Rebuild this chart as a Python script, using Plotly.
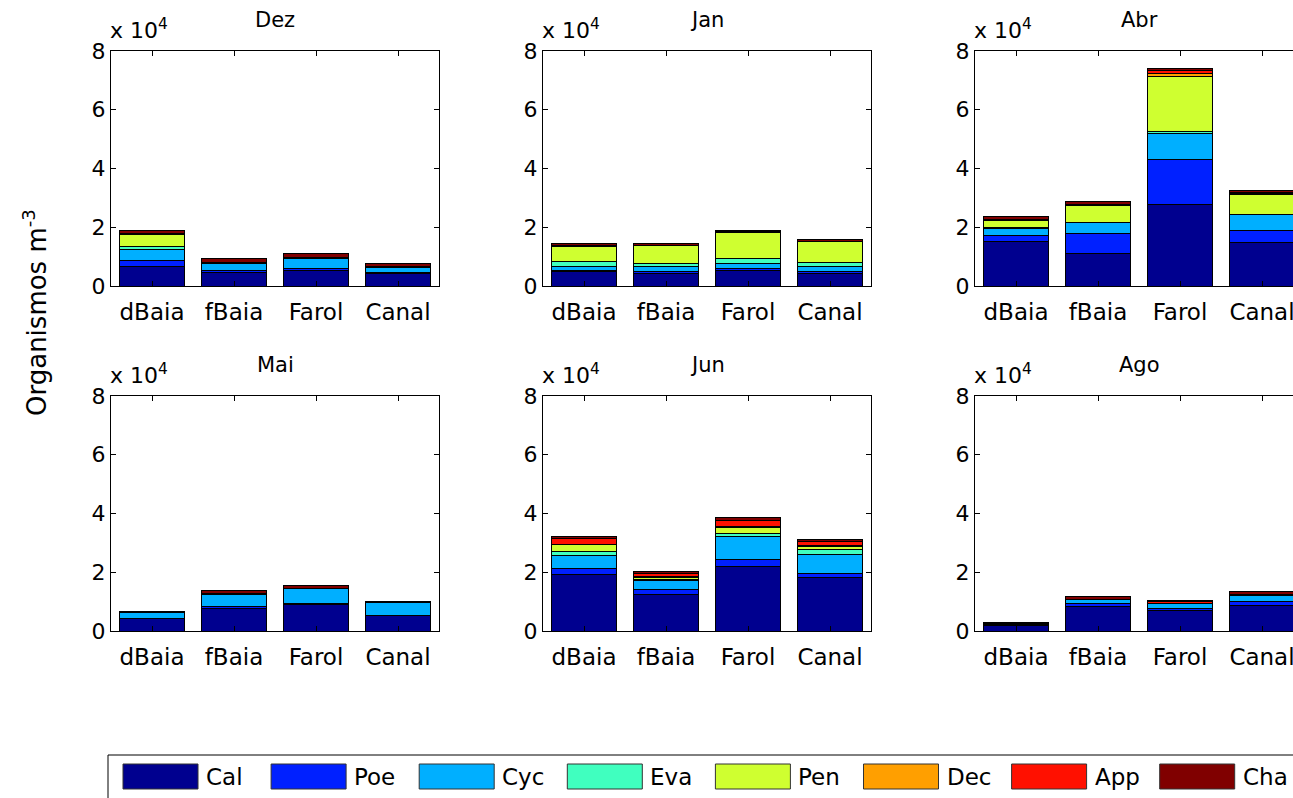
import plotly.graph_objects as go

sites = ["dBaia", "fBaia", "Farol", "Canal"]
species = ["Cal", "Poe", "Cyc", "Eva", "Pen", "Dec", "App", "Cha"]
colors = ["#00008F", "#0020FF", "#00AFFF", "#40FFBF", "#CFFF30", "#FF9F00", "#FF1000", "#800000"]
months = ["Dez", "Jan", "Abr", "Mai", "Jun", "Ago"]
yticks = [0, 20000, 40000, 60000, 80000]
ytick_text = ["0", "2", "4", "6", "8"]

# values in thousands of organisms per m^3, rows = species (Cal..Cha), cols = sites
dez = [[6.8, 4.7, 5.4, 4.1], [2.0, 0.5, 0.5, 0.4], [3.7, 2.4, 3.3, 1.7], [1.1, 0.1, 0.1, 0.1],
       [4.1, 0.3, 0.3, 0.5], [0.1, 0.0, 0.0, 0.0], [0.2, 0.1, 0.1, 0.0], [0.8, 1.1, 1.2, 0.8]]
jan = [[4.9, 4.1, 5.2, 4.3], [0.5, 0.9, 0.8, 0.8], [1.2, 1.6, 1.7, 1.7], [1.6, 1.0, 1.6, 1.1],
       [5.4, 6.2, 9.0, 7.3], [0.1, 0.0, 0.0, 0.0], [0.1, 0.1, 0.1, 0.1], [0.5, 0.5, 0.4, 0.4]]
abr = [[15.0, 11.2, 27.6, 14.9], [2.3, 6.8, 15.4, 3.9], [2.4, 3.5, 9.0, 5.5], [0.1, 0.2, 0.6, 0.2],
       [2.6, 5.8, 18.7, 6.8], [0.1, 0.1, 1.1, 0.3], [0.2, 0.2, 0.9, 0.1], [0.9, 0.8, 0.9, 0.8]]
mai = [[4.1, 7.5, 9.1, 5.2], [0.2, 0.7, 0.3, 0.2], [1.9, 4.3, 5.0, 4.2], [0.0, 0.0, 0.0, 0.0],
       [0.1, 0.0, 0.0, 0.0], [0.0, 0.0, 0.0, 0.0], [0.1, 0.1, 0.1, 0.0], [0.4, 1.1, 0.9, 0.5]]
jun = [[19.4, 12.5, 21.9, 18.3], [1.9, 1.5, 2.5, 1.4], [4.5, 3.2, 7.7, 6.5], [1.4, 0.4, 1.1, 1.4],
       [2.1, 0.7, 2.0, 1.1], [0.3, 0.3, 0.4, 0.3], [1.8, 0.9, 2.0, 1.3], [0.7, 0.7, 1.0, 1.0]]
ago = [[2.0, 8.5, 6.9, 8.7], [0.2, 0.7, 0.8, 1.4], [0.2, 1.4, 1.5, 1.9], [0.0, 0.0, 0.1, 0.1],
       [0.0, 0.0, 0.0, 0.1], [0.0, 0.0, 0.0, 0.0], [0.0, 0.1, 0.6, 0.1], [0.6, 1.0, 0.4, 1.0]]
month_data = [dez, jan, abr, mai, jun, ago]

W, H = 1293, 798
FONT = "DejaVu Sans, Liberation Sans, Arial, sans-serif"
col_px = [(111, 439), (543, 871), (975, 1303)]
row_px = [(51, 286), (396, 631)]


def fx(x):
    return x / W


def fy(y):
    return 1 - y / H


fig = go.Figure()
layout = dict(barmode="stack", bargap=0.2, width=W, height=H,
              margin=dict(l=0, r=0, t=0, b=0, pad=0, autoexpand=False), showlegend=False,
              plot_bgcolor="white", paper_bgcolor="white",
              font=dict(family=FONT, size=22, color="black"))
annotations = []
shapes = []
xpos = [1, 2, 3, 4]

for k, (mname, data) in enumerate(zip(months, month_data)):
    r, c = divmod(k, 3)
    idx = "" if k == 0 else str(k + 1)
    x0p, x1p = col_px[c]
    y0p, y1p = row_px[r]
    vis_right = min(x1p, W)
    xr_end = 0.5 + 4 * (vis_right - x0p) / (x1p - x0p)
    for s, (sp, col) in enumerate(zip(species, colors)):
        fig.add_trace(go.Bar(x=xpos, y=[v * 1000 for v in data[s]], name=sp,
                             marker=dict(color=col, line=dict(color="black", width=1)),
                             width=0.8, xaxis="x" + idx, yaxis="y" + idx,
                             showlegend=False))
    clipped = x1p > W
    layout["xaxis" + idx] = dict(domain=[fx(x0p), min(fx(x1p), 1)], anchor="y" + idx,
                                 range=[0.5, xr_end], tickvals=xpos, ticktext=sites,
                                 ticks="inside", ticklen=5, tickcolor="black",
                                 showline=True, linecolor="black", linewidth=1,
                                 mirror="allticks", showgrid=False, zeroline=False,
                                 automargin=False, ticklabeloverflow="allow",
                                 ticklabelstandoff=5,
                                 tickfont=dict(size=23), fixedrange=True)
    layout["yaxis" + idx] = dict(domain=[fy(y1p), fy(y0p)], anchor="x" + idx,
                                 range=[0, 80000], tickvals=yticks, ticktext=ytick_text,
                                 ticks="inside", ticklen=5, tickcolor="black",
                                 showline=True, linecolor="black", linewidth=1,
                                 mirror=False if clipped else "allticks",
                                 showgrid=False, zeroline=False, automargin=False,
                                 tickfont=dict(size=22), fixedrange=True)
    annotations.append(dict(x=fx((x0p + x1p) / 2), y=fy(y0p - 17), xref="paper", yref="paper",
                            text=mname, showarrow=False, xanchor="center", yanchor="bottom",
                            font=dict(size=21)))
    annotations.append(dict(x=fx(x0p - 3), y=fy(y0p - 6), xref="paper", yref="paper",
                            text="x 10<sup>4</sup>", showarrow=False, xanchor="left",
                            yanchor="bottom", font=dict(size=22)))

annotations.append(dict(x=fx(35), y=fy(313), xref="paper", yref="paper",
                        text="Organismos m<sup>-3</sup>", showarrow=False, textangle=-90,
                        xanchor="center", yanchor="middle", font=dict(size=26)))

# legend drawn as a framed row of swatches
shapes.append(dict(type="rect", xref="paper", yref="paper", x0=fx(108), x1=1.02,
                   y0=fy(805), y1=fy(755), line=dict(color="black", width=1),
                   fillcolor="white", layer="below"))
for i, (sp, col) in enumerate(zip(species, colors)):
    sx = 123 + i * 148.1
    shapes.append(dict(type="rect", xref="paper", yref="paper", x0=fx(sx), x1=fx(sx + 75),
                       y0=fy(789), y1=fy(764), line=dict(color="#333333", width=1),
                       fillcolor=col))
    annotations.append(dict(x=fx(sx + 81), y=fy(777), xref="paper", yref="paper", text=sp,
                            showarrow=False, xanchor="left", yanchor="middle",
                            font=dict(size=23)))

layout["annotations"] = annotations
layout["shapes"] = shapes
fig.update_layout(**layout)
fig.write_html("out.html")
